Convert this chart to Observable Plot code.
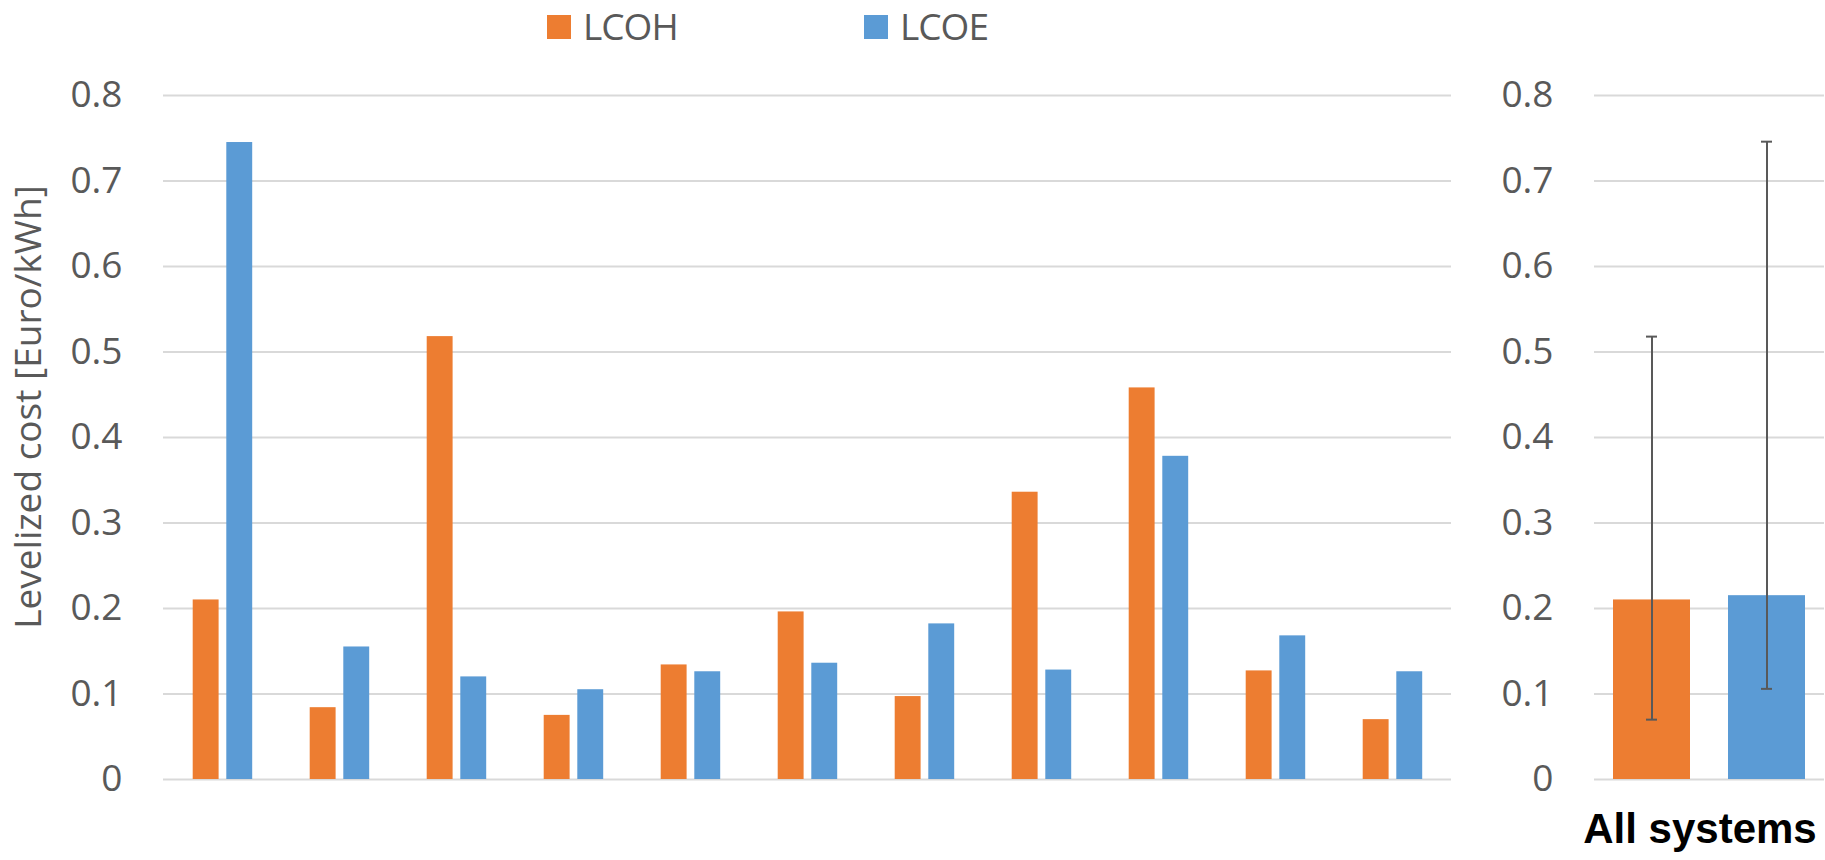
<!DOCTYPE html>
<html>
<head>
<meta charset="utf-8">
<script src="https://cdn.jsdelivr.net/npm/d3@7"></script>
<script src="https://cdn.jsdelivr.net/npm/@observablehq/plot@0.6"></script>
<style>
  html, body { margin: 0; padding: 0; background: #fff; overflow: hidden; }
  #root { position: relative; width: 1825px; height: 860px; font-family: "Open Sans", sans-serif; }
  #legend { position: relative; height: 45px; }
  .sw { position: absolute; top: 15px; width: 24px; height: 24px; }
  .lt { position: absolute; top: 0px; font-size: 37px; line-height: normal; color: #595959; letter-spacing: -1px; }
  #row { display: flex; height: 815px; }
  #ytitle { position: absolute; left: 26px; top: 407px; transform: translate(-50%, -50%) rotate(-90deg);
            white-space: nowrap; font-size: 37px; line-height: normal; color: #595959; }
  #allsys { position: absolute; left: 1700px; top: 850px; transform: translate(-50%, -100%);
            font-family: "Liberation Sans", Arial, sans-serif; font-weight: bold; font-size: 42px;
            line-height: 42px; color: #000; white-space: nowrap; }
</style>
</head>
<body>
<div id="root">
  <div id="legend"></div>
  <div id="row"><div id="left"></div><div id="right"></div></div>
  <div id="ytitle">Levelized cost [Euro/kWh]</div>
  <div id="allsys">All systems</div>
</div>
<script>
// ---- data ----
const systems = ["S1","S2","S3","S4","S5","S6","S7","S8","S9","S10","S11"];
const seriesNames = ["LCOH", "LCOE"];
const seriesColors = ["#ED7D31", "#5B9BD5"];
const lcoh = [0.21, 0.084, 0.518, 0.075, 0.134, 0.196, 0.097, 0.336, 0.458, 0.127, 0.070];
const lcoe = [0.745, 0.155, 0.120, 0.105, 0.126, 0.136, 0.182, 0.128, 0.378, 0.168, 0.126];
const allMean = [0.210, 0.215];
const allLow  = [0.070, 0.106];
const allHigh = [0.518, 0.746];
const yTicks = [0, 0.1, 0.2, 0.3, 0.4, 0.5, 0.6, 0.7, 0.8];

// ---- legend ----
const legend = document.getElementById("legend");
const legendPos = [[547, 583], [864, 900]];
seriesNames.forEach((name, i) => {
  const sw = document.createElement("div");
  sw.className = "sw"; sw.style.left = legendPos[i][0] + "px"; sw.style.background = seriesColors[i];
  legend.appendChild(sw);
  const t = document.createElement("div");
  t.className = "lt"; t.style.left = legendPos[i][1] + "px"; t.textContent = name;
  legend.appendChild(t);
});

const color = {domain: seriesNames, range: seriesColors};
const fmt = d => String(+d.toFixed(1));
const axisStyle = {fontFamily: "Open Sans, sans-serif", fontSize: "37px", color: "#595959", background: "transparent"};

// ---- left panel ----
const rows = systems.map((s, i) => ({system: s, LCOH: lcoh[i], LCOE: lcoe[i]}));
const left = Plot.plot({
  width: 1460, height: 815,
  marginLeft: 163, marginRight: 9, marginTop: 50, marginBottom: 81,
  style: axisStyle,
  x: {domain: systems, padding: 0, axis: null},
  y: {domain: [0, 0.8], ticks: yTicks, tickFormat: fmt, label: null, tickSize: 0, tickPadding: 41},
  color,
  marks: [
    Plot.gridY(yTicks, {stroke: "#d9d9d9", strokeOpacity: 1, strokeWidth: 2}),
    Plot.barY(rows, {x: "system", y: "LCOH", fill: () => "LCOH", insetLeft: 28.7, insetRight: 62.4}),
    Plot.barY(rows, {x: "system", y: "LCOE", fill: () => "LCOE", insetLeft: 62.3, insetRight: 28.8}),
    Plot.axisY(yTicks, {tickFormat: fmt, tickSize: 0, tickPadding: 41, label: null})
  ]
});
document.getElementById("left").appendChild(left);

// ---- right panel ----
const agg = seriesNames.map((s, i) => ({series: s, mean: allMean[i], low: allLow[i], high: allHigh[i]}));
const right = Plot.plot({
  width: 365, height: 815,
  marginLeft: 134, marginRight: 1, marginTop: 50, marginBottom: 81,
  style: axisStyle,
  x: {domain: seriesNames, paddingInner: 0.33, paddingOuter: 0.165, axis: null},
  y: {domain: [0, 0.8], ticks: yTicks, tickFormat: fmt, label: null, tickSize: 0, tickPadding: 41},
  color,
  marks: [
    Plot.gridY(yTicks, {stroke: "#d9d9d9", strokeOpacity: 1, strokeWidth: 2}),
    Plot.barY(agg, {x: "series", y: "mean", fill: "series"}),
    Plot.ruleX(agg, {x: "series", y1: "low", y2: "high", stroke: "#595959", strokeWidth: 2}),
    Plot.tickY(agg, {x: "series", y: "high", stroke: "#595959", strokeWidth: 2, insetLeft: 33, insetRight: 33}),
    Plot.tickY(agg, {x: "series", y: "low", stroke: "#595959", strokeWidth: 2, insetLeft: 33, insetRight: 33}),
    Plot.axisY(yTicks, {tickFormat: fmt, tickSize: 0, tickPadding: 41, label: null})
  ]
});
document.getElementById("right").appendChild(right);
</script>
</body>
</html>
